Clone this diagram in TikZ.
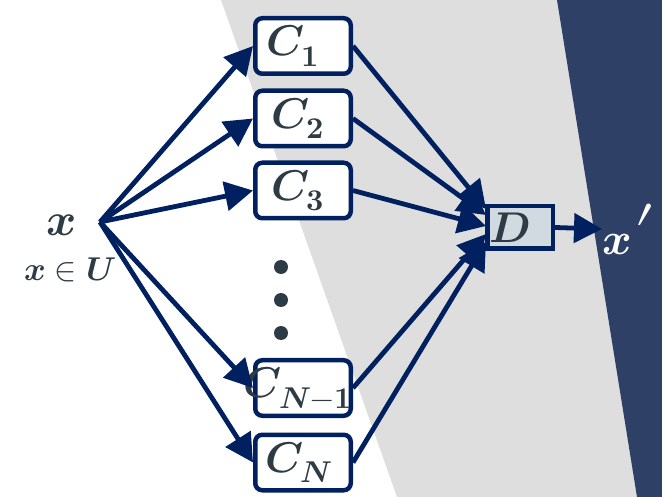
\documentclass[tikz,border=0pt]{standalone}
\usepackage{amsmath}
\usepackage{unicode-math}
\setmathfont{Latin Modern Math}
\usetikzlibrary{arrows.meta,calc}
\definecolor{navyline}{RGB}{0,32,96}
\definecolor{bandnavy}{RGB}{46,64,102}
\definecolor{panelgrey}{RGB}{222,222,222}
\definecolor{inkslate}{RGB}{45,59,69}
\definecolor{dfill}{RGB}{208,218,224}
\newcommand{\bv}[1]{\symbfit{#1}}
% a label of no width, moved left by half of #1 and slightly down
\newcommand{\boxlabel}[2]{\makebox[0pt]{\raisebox{-3pt}{$#2$}\kern#1}}
\begin{document}
\begin{tikzpicture}[x=1pt,y=-1pt,
  cbox/.style={draw=navyline,line width=4.5pt,fill=white,rounded corners=7pt,
    minimum width=95.5pt,minimum height=55.5pt,inner sep=0pt,text=inkslate,
    font=\fontsize{43}{48}\selectfont},
  dbox/.style={draw=navyline,line width=4.5pt,fill=dfill,
    minimum width=65.5pt,minimum height=42.5pt,inner sep=0pt,text=inkslate,
    font=\fontsize{43}{48}\selectfont},
  flow/.style={draw=navyline,line width=4.8pt,-{Triangle[length=28pt,width=29pt]}},
  lbl/.style={inner sep=0pt,text=inkslate}]
\useasboundingbox (0,0) rectangle (662,497);
% background panels
\fill[white] (0,0) rectangle (662,497);
\fill[panelgrey] (221,0) -- (662,0) -- (662,497) -- (397,497) -- cycle;
\fill[bandnavy] (557,0) -- (662,0) -- (662,497) -- (637,497) -- cycle;

% classifier boxes
\node[cbox] (c1) at (303,46) {\boxlabel{20pt}{\bv{C}_{\symbf{1}}}};
\node[cbox] (c2) at (303,118.5) {\boxlabel{10pt}{\bv{C}_{\symbf{2}}}};
\node[cbox] (c3) at (303,190.5) {\boxlabel{10pt}{\bv{C}_{\symbf{3}}}};
\node[cbox] (cn1) at (303,388) {\boxlabel{10pt}{\bv{C}_{\bv{N}\boldsymbol{-}\symbf{1}}}};
\node[cbox] (cn) at (303,462.5) {\boxlabel{8pt}{\bv{C}_{\bv{N}}}};

% vertical ellipsis
\fill[inkslate] (281,267) circle (7pt);
\fill[inkslate] (281,300) circle (7pt);
\fill[inkslate] (281,333) circle (7pt);

% decision box and output
\node[dbox] (D) at (520,227.5) {\boxlabel{20pt}{\bv{D}}};
\node[inner sep=0pt,anchor=west,text=white,font=\fontsize{45}{50}\selectfont] (xout) at (602,229)
  {$\bv{x}\mkern1mu\scalebox{1.5}{$\prime$}$};

% input labels
\node[lbl,font=\fontsize{46}{50}\selectfont] (xin) at (62,225) {$\bv{x}$};
\node[lbl,font=\fontsize{33}{36}\selectfont] (xdom) at (70,270) {$\bv{x}\in\bv{U}$};
\coordinate (src) at (100,222);

% targets on the decision box
\coordinate (d1) at (486,209);
\coordinate (d2) at (486,215);
\coordinate (d3) at (486,226);
\coordinate (d4) at (486,234);
\coordinate (d5) at (486,242);

% fan out
\draw[flow] (src) -- (c1.west);
\draw[flow] (src) -- (c2.west);
\draw[flow] (src) -- (c3.west);
\draw[flow] (src) -- (cn1.west);
\draw[flow] (src) -- (cn.west);

% fan in
\draw[flow] (c1.east) -- (d1);
\draw[flow] (c2.east) -- (d2);
\draw[flow] (c3.east) -- (d3);
\draw[flow] (cn1.east) -- (d4);
\draw[flow] (cn.east) -- (d5);

\draw[flow] (D.east) -- (xout.west);
\end{tikzpicture}
\end{document}
